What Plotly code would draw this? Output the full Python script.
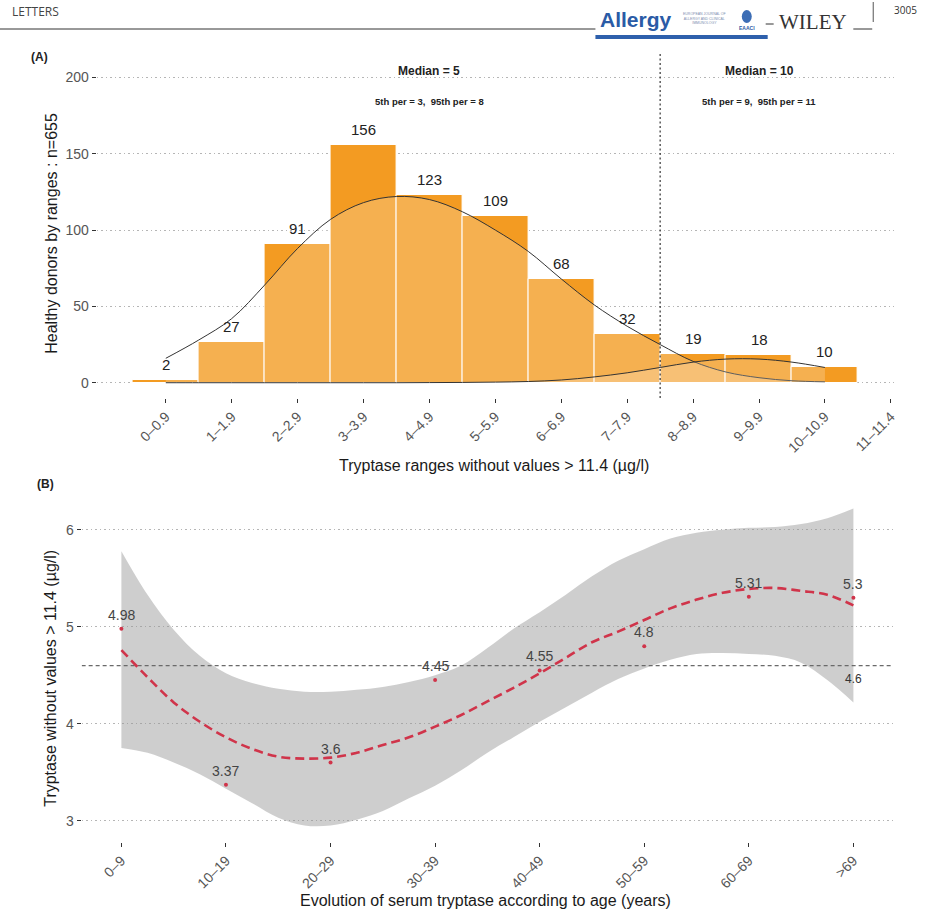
import plotly.graph_objects as go

W, H = 930, 911

# ---------------- Panel A data ----------------
range_labels = ["0–0.9", "1–1.9", "2–2.9", "3–3.9", "4–4.9", "5–5.9", "6–6.9",
                "7–7.9", "8–8.9", "9–9.9", "10–10.9", "11–11.4"]
donor_counts = [2, 27, 91, 156, 123, 109, 68, 32, 19, 18, 10]

curve_pos = [0, 0.5, 1, 1.5, 2, 2.5, 3, 3.5, 4, 4.5, 5, 5.5, 6, 6.5, 7, 7.5, 8, 8.5, 9, 9.5, 10]
curve_main = [16, 28, 42, 64, 88, 107, 118, 122, 120, 112, 100, 86, 68, 51, 37, 25, 14, 7, 3.3, 1.3, 0.6]
curve_upper = [0, 0, 0, 0, 0, 0, 0, 0, 0.1, 0.2, 0.4, 0.8, 1.8, 3.8, 6.5, 10, 13.5, 15.5, 15.5, 13.5, 10]

median_split = 7.5
group_titles = ["Median = 5", "Median = 10"]
group_percentiles = ["5th per = 3,  95th per = 8", "5th per = 9,  95th per = 11"]
group_pos = [4, 9]

# ---------------- Panel B data ----------------
age_groups = ["0–9", "10–19", "20–29", "30–39", "40–49", "50–59", "60–69", ">69"]
tryptase_means = [4.98, 3.37, 3.6, 4.45, 4.55, 4.8, 5.31, 5.3]
reference_level = 4.6

smooth_pos = [0, 0.25, 0.5, 0.75, 1, 1.25, 1.5, 1.75, 2, 2.25, 2.5, 2.75, 3, 3.25, 3.5,
              3.75, 4, 4.25, 4.5, 4.75, 5, 5.25, 5.5, 5.75, 6, 6.25, 6.5, 6.75, 7]
smooth_fit = [4.76, 4.48, 4.22, 4.02, 3.86, 3.74, 3.66, 3.64, 3.65, 3.70, 3.78, 3.86, 3.97, 4.09, 4.23,
              4.37, 4.52, 4.68, 4.84, 4.95, 5.07, 5.19, 5.28, 5.35, 5.39, 5.40, 5.37, 5.33, 5.22]
smooth_upper = [5.78, 5.33, 4.97, 4.70, 4.52, 4.42, 4.36, 4.33, 4.33, 4.35, 4.38, 4.43, 4.50, 4.60, 4.78,
                4.98, 5.15, 5.33, 5.52, 5.68, 5.80, 5.91, 5.97, 6.00, 6.02, 6.03, 6.06, 6.12, 6.22]
smooth_lower = [3.75, 3.70, 3.60, 3.48, 3.33, 3.18, 3.03, 2.95, 2.95, 3.01, 3.10, 3.23, 3.36, 3.52, 3.70,
                3.86, 4.02, 4.17, 4.32, 4.46, 4.57, 4.66, 4.72, 4.73, 4.72, 4.70, 4.63, 4.45, 4.22]

# ---------------- styles ----------------
FONT = "Liberation Sans, Arial, sans-serif"
BAR_COLOR = "#F39B22"
OVERLAY = "rgba(255,255,255,0.21)"
GRID = "#B5B5B5"
GRID_DASH = "1.5px,3px"
TICKTXT = "#555555"
RED = "#D0344A"


def px(x):
    return x / W


def py(y):
    return 1 - y / H


def note(x, y, text, size, color="#222222", xref="paper", yref="paper", **kw):
    d = dict(x=x, y=y, xref=xref, yref=yref, text=text, showarrow=False,
             xanchor="center", yanchor="middle", font=dict(family=FONT, size=size, color=color))
    if "family" in kw:
        d["font"]["family"] = kw.pop("family")
    d.update(kw)
    return d


fig = go.Figure()

# Panel A bars
fig.add_trace(go.Bar(
    x=list(range(len(donor_counts))), y=donor_counts, width=1.0,
    marker=dict(color=BAR_COLOR, line=dict(color="white", width=1)),
    xaxis="x", yaxis="y", hoverinfo="skip", showlegend=False))

# density curves
for vals in (curve_main, curve_upper):
    fig.add_trace(go.Scatter(
        x=curve_pos, y=vals, mode="lines", line=dict(color="#333333", width=1, shape="spline"),
        fill="tozeroy", fillcolor=OVERLAY, xaxis="x", yaxis="y",
        hoverinfo="skip", showlegend=False))

# Panel B ribbon
fig.add_trace(go.Scatter(
    x=smooth_pos, y=smooth_lower, mode="lines", line=dict(width=0, shape="spline"),
    xaxis="x2", yaxis="y2", hoverinfo="skip", showlegend=False))
fig.add_trace(go.Scatter(
    x=smooth_pos, y=smooth_upper, mode="lines", line=dict(width=0, shape="spline"),
    fill="tonexty", fillcolor="rgba(150,150,150,0.47)",
    xaxis="x2", yaxis="y2", hoverinfo="skip", showlegend=False))

# reference horizontal line
fig.add_trace(go.Scatter(
    x=[-0.38, 7.38], y=[reference_level, reference_level], mode="lines",
    line=dict(color="#6a6a6a", width=1.2, dash="4px,3px"),
    xaxis="x2", yaxis="y2", hoverinfo="skip", showlegend=False))

# smooth fit
fig.add_trace(go.Scatter(
    x=smooth_pos, y=smooth_fit, mode="lines",
    line=dict(color=RED, width=2.6, dash="9px,5px", shape="spline"),
    xaxis="x2", yaxis="y2", hoverinfo="skip", showlegend=False))

# points
fig.add_trace(go.Scatter(
    x=list(range(len(tryptase_means))), y=tryptase_means, mode="markers",
    marker=dict(color=RED, size=4),
    xaxis="x2", yaxis="y2", hoverinfo="skip", showlegend=False))

annotations = []
# bar labels
for i, c in enumerate(donor_counts):
    annotations.append(note(i, c, str(c), 15, xref="x", yref="y", yanchor="bottom", yshift=5))
# group annotations
for gx, t, p in zip(group_pos, group_titles, group_percentiles):
    annotations.append(note(gx, 204, "<b>%s</b>" % t, 12, xref="x", yref="y"))
    annotations.append(note(gx, 184, "<b>%s</b>" % p, 9.5, xref="x", yref="y"))
# point labels
for i, v in enumerate(tryptase_means):
    annotations.append(note(i, v, str(v), 14, "#444444", xref="x2", yref="y2", yanchor="bottom", yshift=4))
annotations.append(note(7, reference_level, str(reference_level), 12, "#333333", xref="x2", yref="y2",
                        yanchor="top", yshift=-4))

# axis titles and panel tags
annotations += [
    note(px(496), py(466), "Tryptase ranges without values > 11.4 (µg/l)", 16, "#1a1a1a"),
    note(px(52), py(233), "Healthy donors by ranges : n=655", 16, "#1a1a1a", textangle=-90),
    note(px(488), py(900), "Evolution of serum tryptase according to age (years)", 16, "#1a1a1a"),
    note(px(50), py(678), "Tryptase without values > 11.4 (µg/l)", 16, "#1a1a1a", textangle=-90),
    note(px(40), py(57), "<b>(A)</b>", 12),
    note(px(46), py(484), "<b>(B)</b>", 12),
]

# page header
annotations += [
    note(px(10), py(12), "LETTERS", 12, "#444444", xanchor="left", family="Open Sans, sans-serif"),
    note(px(639), py(20), "<b>Allergy</b>", 21, "#2A5BA6"),
    note(px(684), py(19), "EUROPEAN JOURNAL OF<br>ALLERGY AND CLINICAL<br>IMMUNOLOGY", 3.5, "#8090B0",
         xanchor="left"),
    note(px(750), py(28), "<b>EAACI</b>", 5, "#2A5BA6"),
    note(px(817), py(22), "WILEY", 21, "#333333", family="Liberation Serif, serif"),
    note(px(909), py(10), "3005", 10, "#333333", family="Open Sans, sans-serif"),
]

shapes = [
    # median split line
    dict(type="line", xref="x", yref="paper", x0=median_split, x1=median_split,
         y0=py(398), y1=py(53), line=dict(color="#333333", width=1.2, dash="2px,2.5px")),
    # header rules
    dict(type="line", xref="paper", yref="paper", x0=0, x1=px(598), y0=py(29), y1=py(29),
         line=dict(color="#333333", width=1)),
    dict(type="line", xref="paper", yref="paper", x0=px(769), x1=px(777), y0=py(24), y1=py(24),
         line=dict(color="#333333", width=1)),
    dict(type="line", xref="paper", yref="paper", x0=px(857), x1=px(876), y0=py(29), y1=py(29),
         line=dict(color="#333333", width=1)),
    dict(type="line", xref="paper", yref="paper", x0=px(877), x1=px(877), y0=py(2), y1=py(22),
         line=dict(color="#555555", width=1)),
    dict(type="rect", xref="paper", yref="paper", x0=px(598), x1=px(771), y0=py(39), y1=py(35),
         line=dict(width=0), fillcolor="#2E60AC"),
    dict(type="circle", xref="paper", yref="paper", x0=px(745), x1=px(755), y0=py(23), y1=py(10),
         line=dict(width=0), fillcolor="#3C6DB5"),
]

axis_common = dict(ticks="outside", tickcolor="#333333", ticklen=4, tickwidth=1,
                   showline=False, zeroline=False)
xtickfont = dict(family=FONT, size=14, color=TICKTXT)
ytickfont = dict(family=FONT, size=14, color=TICKTXT)

fig.update_layout(
    width=W, height=H, margin=dict(l=0, r=0, t=0, b=0),
    paper_bgcolor="white", plot_bgcolor="white", showlegend=False,
    bargap=0,
    xaxis=dict(domain=[px(97), px(898)], range=[-1.05, 11.05], tickmode="array",
               tickvals=list(range(len(range_labels))), ticktext=range_labels, tickangle=-45,
               showgrid=False, anchor="y", tickfont=xtickfont, **axis_common),
    yaxis=dict(domain=[py(398), py(53)], range=[-10, 216], tickmode="array",
               tickvals=[0, 50, 100, 150, 200], showgrid=True, gridcolor=GRID, griddash=GRID_DASH,
               gridwidth=1, anchor="x", tickfont=ytickfont, **axis_common),
    xaxis2=dict(domain=[px(82), px(897)], range=[-0.38, 7.38], tickmode="array",
                tickvals=list(range(len(age_groups))), ticktext=age_groups, tickangle=-45,
                showgrid=False, anchor="y2", tickfont=xtickfont, **axis_common),
    yaxis2=dict(domain=[py(842), py(492)], range=[2.78, 6.39], tickmode="array",
                tickvals=[3, 4, 5, 6], showgrid=True, gridcolor=GRID, griddash=GRID_DASH,
                gridwidth=1, anchor="x2", tickfont=ytickfont, **axis_common),
    annotations=annotations, shapes=shapes,
)

fig.write_html("out.html", config={"displayModeBar": False},
               post_script="document.body.style.margin='0px';document.body.style.padding='0px';"
                           "document.documentElement.style.overflow='hidden';")
